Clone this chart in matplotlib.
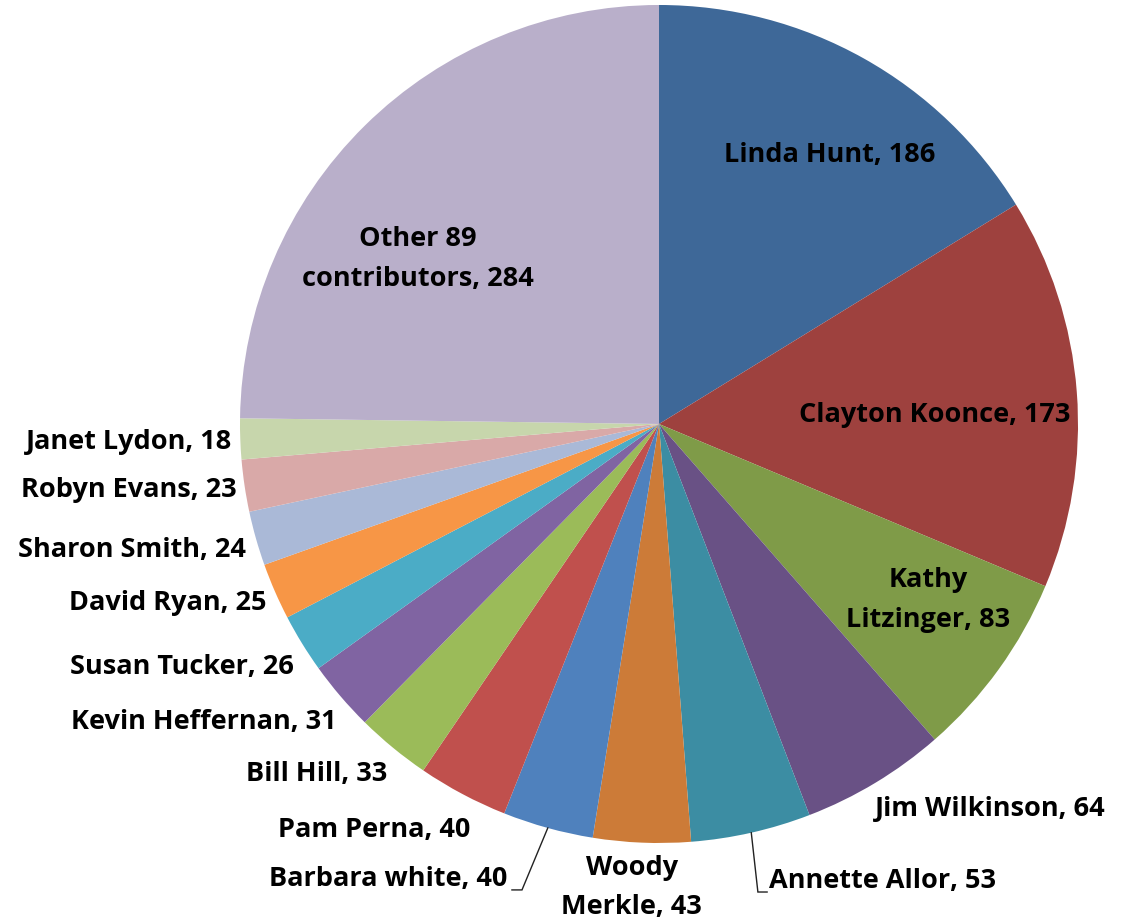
import numpy as np
import matplotlib
matplotlib.use("Agg")
import matplotlib.pyplot as plt

# Contributions per person (clockwise from 12 o'clock)
names = [
    "Linda Hunt", "Clayton Koonce", "Kathy\nLitzinger", "Jim Wilkinson",
    "Annette Allor", "Woody\nMerkle", "Barbara white", "Pam Perna",
    "Bill Hill", "Kevin Heffernan", "Susan Tucker", "David Ryan",
    "Sharon Smith", "Robyn Evans", "Janet Lydon", "Other 89\ncontributors",
]
counts = [186, 173, 83, 64, 53, 43, 40, 40, 33, 31, 26, 25, 24, 23, 18, 284]

colors = [
    "#3E6898", "#9E413E", "#7F9B48", "#695185", "#3C8DA3", "#CC7B38",
    "#4F81BD", "#C0504D", "#9BBB59", "#8064A2", "#4BACC6", "#F79646",
    "#AAB9D7", "#D9A9A8", "#C7D6AC", "#B9AFCA",
]

# Label placement in pie-radius units: (x, y, horizontal alignment)
label_layout = [
    (0.408, 0.642, "center"),
    (0.659, 0.021, "center"),
    (0.642, -0.420, "center"),
    (0.790, -0.918, "center"),
    (0.262, -1.090, "left"),
    (-0.065, -1.106, "center"),
    (-0.361, -1.087, "right"),
    (-0.451, -0.968, "right"),
    (-0.648, -0.836, "right"),
    (-0.770, -0.711, "right"),
    (-0.871, -0.580, "right"),
    (-0.937, -0.428, "right"),
    (-0.985, -0.300, "right"),
    (-1.009, -0.157, "right"),
    (-1.018, -0.044, "right"),
    (-0.575, 0.394, "center"),
]

# Elbow leader lines: label index -> knee point and end point (pie units)
leaders = {
    6: [(-0.327, -1.112), (-0.351, -1.112)],
    4: [(0.236, -1.117), (0.258, -1.117)],
}

fig = plt.figure(figsize=(11.22, 9.19), dpi=100)
ax = fig.add_axes([0, 0, 1, 1])

wedges, _ = ax.pie(
    counts, colors=colors, startangle=90, counterclock=False,
    radius=1.0, center=(0, 0), frame=True,
    wedgeprops=dict(linewidth=0),
)
ax.set_xlim(-1.5728, 1.105)
ax.set_ylim(-1.1814, 1.0119)
ax.set_aspect("equal")
ax.axis("off")

font = dict(family=["Open Sans", "DejaVu Sans"], fontweight="bold",
            fontsize=19.5, color="black")

for i, (name, val) in enumerate(zip(names, counts)):
    x, y, ha = label_layout[i]
    ax.text(x, y, f"{name}, {val}", ha=ha, va="center", ma="center",
            linespacing=1.68, **font)

for i, pts in leaders.items():
    w = wedges[i]
    mid = np.deg2rad((w.theta1 + w.theta2) / 2)
    xs = [np.cos(mid)] + [p[0] for p in pts]
    ys = [np.sin(mid)] + [p[1] for p in pts]
    ax.plot(xs, ys, color="#222222", linewidth=1.0, solid_joinstyle="miter")

fig.savefig("out.png", dpi=100, facecolor="white")
